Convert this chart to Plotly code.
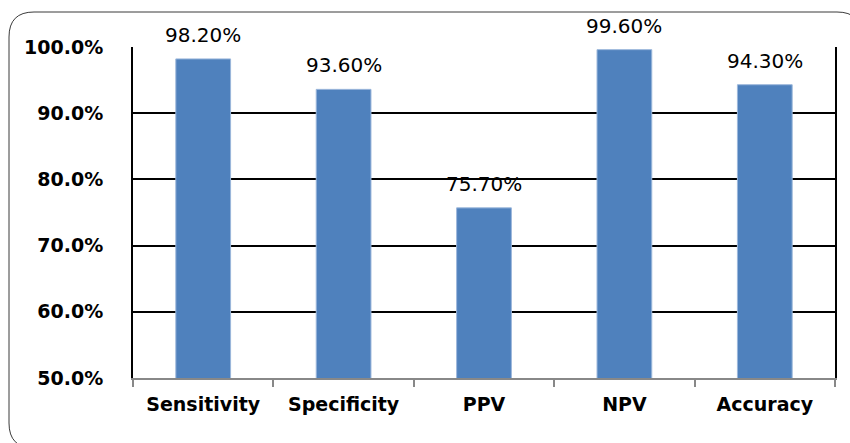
import plotly.graph_objects as go

categories = ["Sensitivity", "Specificity", "PPV", "NPV", "Accuracy"]
values = [0.982, 0.936, 0.757, 0.996, 0.943]
value_labels = ["98.20%", "93.60%", "75.70%", "99.60%", "94.30%"]
y_ticks = [0.5, 0.6, 0.7, 0.8, 0.9, 1.0]

W, H = 850, 443
L, R, T, B = 133, 15, 47, 65
pw, ph = W - L - R, H - T - B

def px(x):
    return (x - L) / pw

def py(y):
    return (H - B - y) / ph

# rounded outer frame (pixel coords -> paper coords)
x0, y0, x1, y1, r = 9, 12, 862, 448, 25
path = (
    f"M {px(x0 + r)},{py(y0)} L {px(x1 - r)},{py(y0)} "
    f"Q {px(x1)},{py(y0)} {px(x1)},{py(y0 + r)} "
    f"L {px(x1)},{py(y1 - r)} Q {px(x1)},{py(y1)} {px(x1 - r)},{py(y1)} "
    f"L {px(x0 + r)},{py(y1)} Q {px(x0)},{py(y1)} {px(x0)},{py(y1 - r)} "
    f"L {px(x0)},{py(y0 + r)} Q {px(x0)},{py(y0)} {px(x0 + r)},{py(y0)} Z"
)

FONT = "DejaVu Sans"

fig = go.Figure(
    go.Bar(
        x=categories,
        y=values,
        cliponaxis=False,
        marker=dict(color="#4F81BD", line=dict(color="#9BB7DB", width=1)),
        width=0.39,
        hoverinfo="x+y",
    )
)

annotations = [
    dict(
        x=c,
        y=v,
        xref="x",
        yref="y",
        text=t,
        showarrow=False,
        yanchor="bottom",
        yshift=10,
        font=dict(family=FONT, size=20, color="#000000"),
    )
    for c, v, t in zip(categories, values, value_labels)
]

fig.update_layout(
    width=W,
    height=H,
    margin=dict(l=L, r=R, t=T, b=B),
    plot_bgcolor="white",
    paper_bgcolor="white",
    showlegend=False,
    annotations=annotations,
    shapes=[
        dict(
            type="path",
            path=path,
            xref="paper",
            yref="paper",
            line=dict(color="#3a3a3a", width=1),
            layer="below",
        )
    ],
)

fig.update_xaxes(
    automargin=False,
    showline=True,
    linecolor="#888888",
    linewidth=2,
    ticks="outside",
    tickson="boundaries",
    ticklen=7,
    tickcolor="#888888",
    tickwidth=2,
    showgrid=False,
    ticklabelstandoff=8,
    tickfont=dict(family=FONT, size=19, color="#000000", weight="bold"),
)

fig.update_yaxes(
    automargin=False,
    range=[0.5, 1.0],
    tickvals=y_ticks,
    tickformat=".1%",
    showline=True,
    linecolor="#000000",
    linewidth=2,
    mirror=True,
    showgrid=True,
    gridcolor="#000000",
    gridwidth=2,
    zeroline=False,
    ticks="",
    ticklabelstandoff=24,
    tickfont=dict(family=FONT, size=19, color="#000000", weight="bold"),
)

fig.write_html(
    "out.html",
    config={"displayModeBar": False},
    post_script="document.body.style.margin='0';document.body.style.overflow='hidden';",
)
